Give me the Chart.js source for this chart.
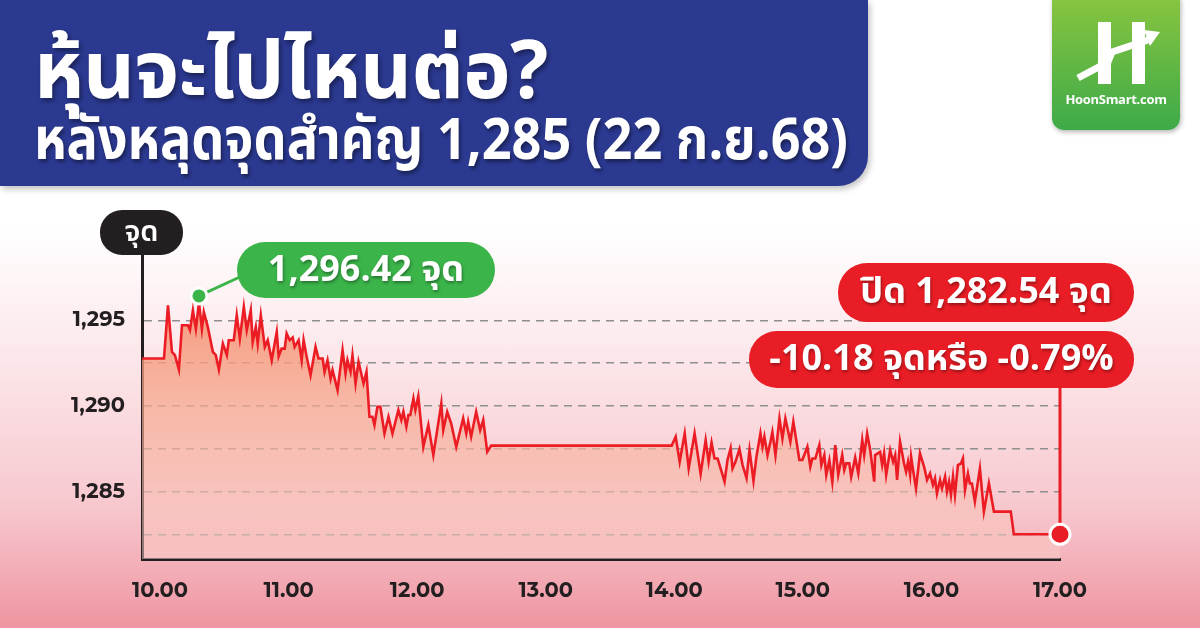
<!DOCTYPE html>
<html lang="th">
<head>
  <meta charset="UTF-8" />
  <title>หุ้นจะไปไหนต่อ?</title>
  <script src="https://cdn.jsdelivr.net/npm/chart.js"></script>
  <style>
    html, body {
      margin: 0;
      padding: 0;
    }

    body {
      width: 1200px;
      height: 628px;
      overflow: hidden;
      position: relative;
      font-family: "Noto Sans Thai", "Noto Sans", sans-serif;
      background: linear-gradient(to bottom, #ffffff 0%, #ffffff 36%, #fce9ec 55%, #f7c9cf 80%, #ef95a1 100%);
    }

    #chart {
      position: absolute;
      left: 0;
      top: 0;
    }

    #banner {
      position: absolute;
      left: 0;
      top: 0;
      width: 868px;
      height: 186px;
      background: #2b3990;
      border-bottom-right-radius: 30px;
      box-shadow: 2px 3px 6px rgba(0,0,0,0.25);
      color: #fff;
    }

    #banner .t1, #banner .t2 {
      position: absolute;
      left: 34px;
      font-weight: 700;
      white-space: nowrap;
      text-shadow: 2px 3px 4px rgba(0,0,0,0.4);
      transform-origin: left center;
    }

    #banner .t1 { top: 24px; font-size: 80px; line-height: 100px; letter-spacing: -0.5px; }
    #banner .t2 { top: 106px; font-size: 58px; line-height: 70px; transform: scaleX(0.9); }

    #logo {
      position: absolute;
      left: 1052px;
      top: -10px;
      width: 128px;
      height: 140px;
      border-radius: 12px;
      background: linear-gradient(to bottom, #8cc63f, #3daa48);
      box-shadow: 1px 2px 5px rgba(0,0,0,0.3);
    }

    #logo svg { position: absolute; left: 0; top: 10px; }

    #logo .name {
      position: absolute;
      left: 0;
      width: 128px;
      top: 100px;
      text-align: center;
      color: #fff;
      font-family: "Open Sans", sans-serif;
      font-weight: 700;
      font-size: 13px;
      letter-spacing: -0.3px;
    }

    .pill {
      position: absolute;
      color: #fff;
      font-weight: 700;
      font-size: 36px;
      text-align: center;
      white-space: nowrap;
      text-shadow: 1px 2px 3px rgba(0,0,0,0.35);
    }

    #highPill { left: 237px; top: 242px; width: 258px; height: 56px; line-height: 56px; border-radius: 28px; background: #3bb44a; }
    #closePill { left: 838px; top: 263px; width: 296px; height: 59px; line-height: 59px; border-radius: 29px; background: #e91d25; }
    #changePill { left: 749px; top: 331px; width: 385px; height: 57px; line-height: 57px; border-radius: 28px; background: #e91d25; }

    #unit {
      position: absolute;
      left: 100px;
      top: 210px;
      width: 83px;
      height: 45px;
      line-height: 45px;
      border-radius: 22px;
      background: #231f20;
      color: #fff;
      font-size: 29px;
      font-weight: 600;
      text-align: center;
    }
  </style>
</head>
<body>
  <canvas id="chart" width="1200" height="628"></canvas>

  <div id="banner">
    <div class="t1">หุ้นจะไปไหนต่อ?</div>
    <div class="t2">หลังหลุดจุดสำคัญ 1,285 (22 ก.ย.68)</div>
  </div>

  <div id="logo">
    <svg width="128" height="100" viewBox="0 0 128 100">
      <rect x="46" y="22" width="13" height="62" fill="#fff" />
      <rect x="80" y="22" width="13" height="62" fill="#fff" />
      <polyline points="26,78 56,62 60,52 96,40" fill="none" stroke="#fff" stroke-width="7" stroke-linejoin="miter" />
      <polygon points="92,30 108,32 98,46" fill="#fff" />
    </svg>
    <div class="name">HoonSmart.com</div>
  </div>

  <div id="unit">จุด</div>
  <div class="pill" id="highPill">1,296.42 จุด</div>
  <div class="pill" id="closePill">ปิด 1,282.54 จุด</div>
  <div class="pill" id="changePill">-10.18 จุดหรือ -0.79%</div>

  <script>
    // เวลา (ชั่วโมง) และดัชนี SET ระหว่างวัน
    const times = [
      9.86, 10.031, 10.062, 10.093, 10.116, 10.147, 10.171, 10.217, 10.233, 10.256,
      10.279, 10.303, 10.326, 10.341, 10.372, 10.411, 10.434, 10.458, 10.489, 10.520,
      10.535, 10.574, 10.597, 10.621, 10.652, 10.675, 10.706, 10.721, 10.745, 10.760,
      10.784, 10.815, 10.838, 10.869, 10.908, 10.923, 10.946, 10.970, 10.985, 11.009,
      11.032, 11.047, 11.078, 11.102, 11.117, 11.140, 11.171, 11.210, 11.233, 11.265,
      11.280, 11.303, 11.327, 11.342, 11.381, 11.420, 11.443, 11.458, 11.482, 11.497,
      11.521, 11.544, 11.583, 11.606, 11.629, 11.652, 11.668, 11.691, 11.714, 11.746,
      11.777, 11.808, 11.854, 11.877, 11.893, 11.916, 11.932, 11.947, 11.971, 11.986,
      12.009, 12.048, 12.087, 12.126, 12.188, 12.203, 12.234, 12.265, 12.304, 12.358,
      12.382, 12.397, 12.420, 12.459, 12.490, 12.514, 12.545, 12.576,
      13.980, 14.011, 14.042, 14.081, 14.112, 14.158, 14.205, 14.244, 14.267, 14.290,
      14.313, 14.337, 14.360, 14.391, 14.414, 14.438, 14.453, 14.476, 14.507, 14.531,
      14.562, 14.585, 14.616, 14.639, 14.670, 14.686, 14.701, 14.725, 14.748, 14.763,
      14.787, 14.818, 14.841, 14.864, 14.903, 14.926, 14.973, 14.996, 15.035, 15.058,
      15.074, 15.097, 15.128, 15.144, 15.167, 15.182, 15.206, 15.229, 15.252, 15.275,
      15.306, 15.322, 15.337, 15.361, 15.376, 15.407, 15.431, 15.462, 15.477, 15.500,
      15.524, 15.555, 15.562, 15.601, 15.617, 15.632, 15.648, 15.679, 15.702, 15.718,
      15.733, 15.756, 15.787, 15.803, 15.818, 15.834, 15.842, 15.857, 15.880, 15.911,
      15.943, 15.966, 15.989, 16.012, 16.028, 16.043, 16.067, 16.082, 16.106, 16.121,
      16.137, 16.152, 16.168, 16.183, 16.206, 16.230, 16.245, 16.261, 16.284, 16.299,
      16.315, 16.338, 16.377, 16.408, 16.447, 16.486, 16.617, 16.641, 17.000
    ];

    const values = [
      1292.77, 1292.77, 1295.87, 1293.16, 1292.97, 1292.13, 1294.71, 1294.71, 1294.42, 1295.58,
      1294.50, 1296.05, 1294.50, 1295.48, 1294.60, 1293.16, 1292.97, 1292.13, 1293.64, 1292.97,
      1293.84, 1293.84, 1295.29, 1293.93, 1295.78, 1294.42, 1295.58, 1293.74, 1294.60, 1293.64,
      1295.29, 1293.45, 1293.84, 1292.67, 1294.32, 1292.90, 1293.35, 1293.35, 1294.23, 1293.84,
      1294.00, 1293.45, 1293.84, 1292.67, 1293.84, 1292.90, 1291.80, 1293.45, 1292.77, 1292.77,
      1292.00, 1292.67, 1291.60, 1292.10, 1290.93, 1293.26, 1291.90, 1292.67, 1292.00, 1292.97,
      1291.32, 1292.58, 1291.32, 1292.00, 1289.38, 1289.38, 1288.90, 1289.96, 1289.96, 1288.41,
      1289.38, 1288.41, 1289.77, 1289.19, 1289.67, 1288.80, 1289.48, 1289.48, 1290.45, 1289.77,
      1290.58, 1287.63, 1288.90, 1287.15, 1290.15, 1288.60, 1289.67, 1288.99, 1287.63, 1289.28,
      1288.41, 1289.09, 1288.22, 1289.67, 1288.60, 1289.19, 1287.34, 1287.70,
      1287.70, 1288.22, 1286.76, 1288.41, 1286.37, 1288.41, 1286.05, 1288.02, 1286.76, 1287.87,
      1286.95, 1286.95, 1286.37, 1285.60, 1286.86, 1287.54, 1286.37, 1286.76, 1287.50, 1286.57,
      1285.80, 1287.44, 1285.65, 1287.05, 1288.41, 1287.63, 1288.22, 1287.15, 1287.93, 1288.50,
      1287.15, 1289.28, 1288.12, 1289.28, 1287.93, 1289.09, 1286.86, 1286.86, 1287.63, 1286.47,
      1286.95, 1286.95, 1287.73, 1286.57, 1287.15, 1285.99, 1286.86, 1285.60, 1287.73, 1285.99,
      1287.15, 1286.28, 1286.67, 1286.67, 1285.89, 1287.00, 1286.08, 1288.02, 1287.15, 1288.41,
      1287.44, 1285.60, 1287.15, 1287.34, 1286.57, 1287.25, 1285.99, 1287.44, 1286.76, 1287.15,
      1285.70, 1287.92, 1286.66, 1286.18, 1286.76, 1285.99, 1287.05, 1286.28, 1285.21, 1287.25,
      1286.47, 1285.70, 1286.08, 1285.41, 1285.79, 1284.92, 1285.70, 1285.21, 1285.89, 1285.02,
      1285.60, 1284.83, 1285.89, 1284.83, 1286.57, 1286.66, 1286.95, 1285.12, 1286.08, 1285.50,
      1285.50, 1284.44, 1286.37, 1283.86, 1285.50, 1283.86, 1283.86, 1282.54, 1282.54
    ];

    const highTime = 10.303;
    const highValue = 1296.42;
    const closeTime = 17.0;
    const closeValue = 1282.54;

    const xTicks = [10, 11, 12, 13, 14, 15, 16, 17];
    const yTicks = [1282.5, 1285, 1287.5, 1290, 1292.5, 1295];

    const series = times.map((t, i) => ({ x: t, y: values[i] }));

    function areaFill(context) {
      const chart = context.chart;
      const area = chart.chartArea;
      if (!area) return null;
      const g = chart.ctx.createLinearGradient(0, 295, 0, area.bottom);
      g.addColorStop(0, 'rgba(244,140,105,0.9)');
      g.addColorStop(0.45, 'rgba(246,170,145,0.7)');
      g.addColorStop(1, 'rgba(250,205,200,0.5)');
      return g;
    }

    // เส้นเชื่อมจุดสูงสุด / จุดปิด กับป้ายข้อความ
    const connectors = {
      id: 'connectors',
      beforeDatasetsDraw(chart) {
        const ctx = chart.ctx;
        const hi = chart.getDatasetMeta(1).data[0];
        const cl = chart.getDatasetMeta(2).data[0];
        const hp = document.getElementById('highPill');
        const cp = document.getElementById('changePill');
        ctx.save();
        ctx.lineWidth = 3;
        ctx.strokeStyle = '#3bb44a';
        ctx.beginPath();
        ctx.moveTo(hi.x, hi.y);
        ctx.lineTo(hp.offsetLeft + 5, hp.offsetTop + hp.offsetHeight / 2 + 6);
        ctx.stroke();
        ctx.strokeStyle = '#e91d25';
        ctx.beginPath();
        ctx.moveTo(cl.x, cl.y);
        ctx.lineTo(cl.x, cp.offsetTop + cp.offsetHeight - 2);
        ctx.stroke();
        ctx.restore();
      }
    };

    new Chart(document.getElementById('chart'), {
      type: 'line',
      data: {
        datasets: [
          {
            data: series,
            borderColor: '#ec1c24',
            borderWidth: 2.6,
            backgroundColor: areaFill,
            fill: 'start',
            tension: 0,
            pointRadius: 0,
            order: 3
          },
          {
            type: 'scatter',
            data: [{ x: highTime, y: highValue }],
            pointRadius: 8,
            pointBackgroundColor: '#3bb44a',
            pointBorderColor: '#ffffff',
            pointBorderWidth: 3,
            clip: false,
            order: 1
          },
          {
            type: 'scatter',
            data: [{ x: closeTime, y: closeValue }],
            pointRadius: 10,
            pointBackgroundColor: '#e91d25',
            pointBorderColor: '#ffffff',
            pointBorderWidth: 3,
            clip: false,
            order: 1
          }
        ]
      },
      options: {
        responsive: false,
        animation: false,
        layout: { padding: { top: 255, right: 140, left: 0, bottom: 0 } },
        plugins: {
          legend: { display: false },
          tooltip: { enabled: false }
        },
        scales: {
          x: {
            type: 'linear',
            min: 9.86,
            max: 17,
            afterBuildTicks: s => { s.ticks = xTicks.map(v => ({ value: v })); },
            afterFit: s => { s.height = 69; },
            grid: { display: false, drawTicks: false },
            border: { display: true, color: '#231f20', width: 3 },
            ticks: {
              padding: 19,
              color: '#231f20',
              font: { family: 'Montserrat, "Noto Sans", sans-serif', size: 21, weight: 'bold' },
              callback: v => v.toFixed(2)
            }
          },
          y: {
            min: 1281.1,
            max: 1298.8,
            afterBuildTicks: s => { s.ticks = yTicks.map(v => ({ value: v })); },
            afterFit: s => { s.width = 142; },
            grid: { color: '#8f8f8f', lineWidth: 1.5, drawTicks: false },
            border: { display: true, color: '#231f20', width: 3, dash: [8, 6] },
            ticks: {
              padding: 17,
              color: '#231f20',
              font: { family: 'Montserrat, "Noto Sans", sans-serif', size: 21, weight: 'bold' },
              callback: v => (v % 5 === 0 ? v.toLocaleString('en-US') : '')
            }
          }
        }
      },
      plugins: [connectors]
    });
  </script>
</body>
</html>
